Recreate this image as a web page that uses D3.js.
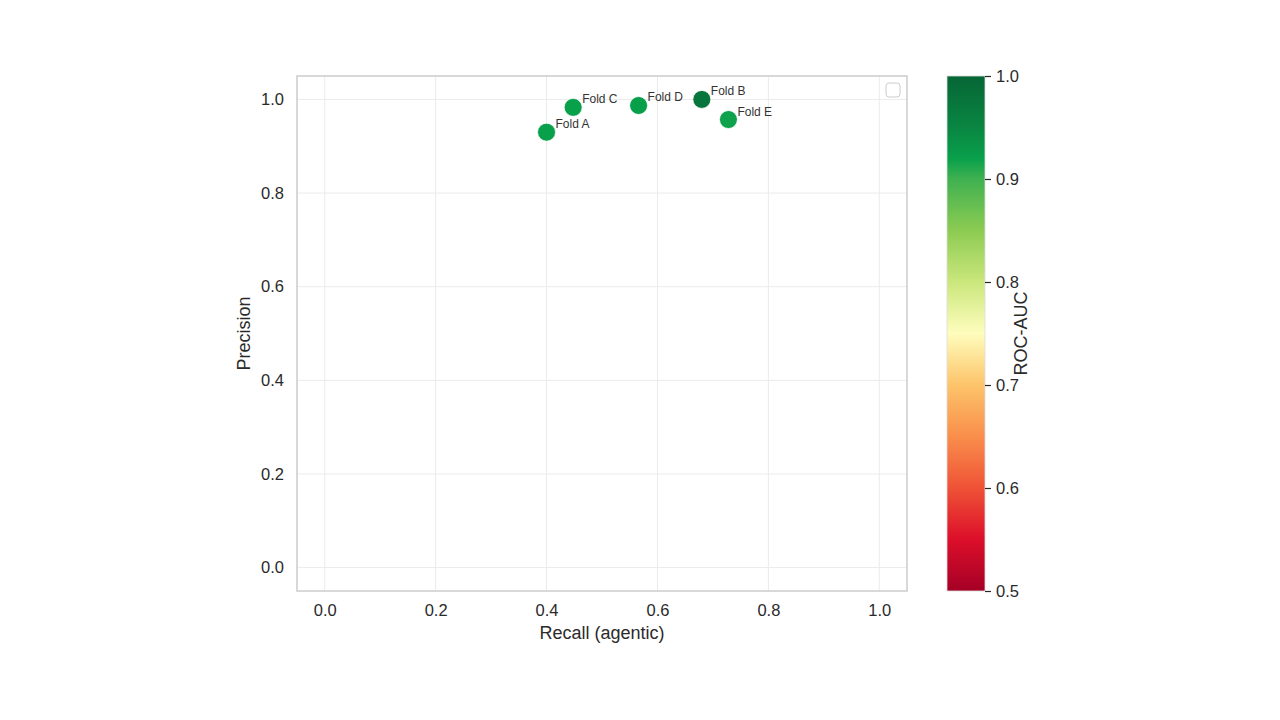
<!DOCTYPE html>
<html>
<head>
<meta charset="utf-8">
<script src="https://cdn.jsdelivr.net/npm/d3@7"></script>
<style>
body { margin: 0; background: #fff; }
text { font-family: "Liberation Sans", Arial, sans-serif; fill: #2a2a2a; }
</style>
</head>
<body>
<div class="content"></div>
<script>
// data
var folds = ["Fold A", "Fold B", "Fold C", "Fold D", "Fold E"];
var recall = [0.400, 0.680, 0.448, 0.566, 0.728];
var precision = [0.930, 1.000, 0.983, 0.987, 0.957];
var rocAuc = [0.920, 0.975, 0.920, 0.921, 0.918];
var axisTicks = [0.0, 0.2, 0.4, 0.6, 0.8, 1.0];
var cbarTicks = [0.5, 0.6, 0.7, 0.8, 0.9, 1.0];

var width = 1280, height = 720;
var svg = d3.select(".content").append("svg").attr("width", width).attr("height", height);

var pL = 297, pR = 907, pT = 76, pB = 591;
var x = d3.scaleLinear().domain([-0.05, 1.05]).range([pL, pR]);
var y = d3.scaleLinear().domain([-0.05, 1.05]).range([pB, pT]);

// colour map like RdYlGn as it looks in the picture
var cmap = d3.scaleLinear()
  .domain([0.5, 0.55, 0.6, 0.65, 0.7, 0.75, 0.8, 0.85, 0.9, 0.92, 0.95, 1.0])
  .range(["#a50026", "#dc0f2a", "#ef5236", "#f98e4b", "#fdc46a", "#fefdbd",
          "#cbe77c", "#8ccb52", "#3fb150", "#08a04b", "#0a8642", "#066636"])
  .clamp(true);

// grid
svg.append("g").selectAll("line").data(axisTicks).enter().append("line")
  .attr("x1", function(d){ return x(d); }).attr("x2", function(d){ return x(d); })
  .attr("y1", pT).attr("y2", pB)
  .attr("stroke", "#ebebeb").attr("stroke-width", 1);
svg.append("g").selectAll("line").data(axisTicks).enter().append("line")
  .attr("y1", function(d){ return y(d); }).attr("y2", function(d){ return y(d); })
  .attr("x1", pL).attr("x2", pR)
  .attr("stroke", "#ebebeb").attr("stroke-width", 1);

// frame
svg.append("rect").attr("x", pL).attr("y", pT)
  .attr("width", pR - pL).attr("height", pB - pT)
  .attr("fill", "none").attr("stroke", "#cccccc").attr("stroke-width", 1.5);

// axes (no tick marks, seaborn whitegrid)
var xa = svg.append("g").attr("transform", "translate(0," + pB + ")")
  .call(d3.axisBottom(x).tickValues(axisTicks).tickFormat(d3.format(".1f")).tickSize(0).tickPadding(13));
var ya = svg.append("g").attr("transform", "translate(" + pL + ",0)")
  .call(d3.axisLeft(y).tickValues(axisTicks).tickFormat(d3.format(".1f")).tickSize(0).tickPadding(13));
[xa, ya].forEach(function(a){
  a.select(".domain").remove();
  a.attr("font-size", 16.5).attr("font-family", "Liberation Sans, Arial, sans-serif");
  a.selectAll("text").attr("fill", "#2a2a2a");
});

svg.append("text").attr("x", (pL + pR) / 2).attr("y", 639)
  .attr("text-anchor", "middle").attr("font-size", 18).text("Recall (agentic)");
svg.append("text").attr("transform", "translate(250," + (pT + pB) / 2 + ") rotate(-90)")
  .attr("text-anchor", "middle").attr("font-size", 18).text("Precision");

// empty legend box
svg.append("rect").attr("x", 886).attr("y", 83).attr("width", 14).attr("height", 14)
  .attr("rx", 3).attr("fill", "#fff").attr("stroke", "#cccccc").attr("stroke-width", 1);

// points
var idx = d3.range(folds.length);
svg.append("g").selectAll("circle").data(idx).enter().append("circle")
  .attr("cx", function(i){ return x(recall[i]); })
  .attr("cy", function(i){ return y(precision[i]); })
  .attr("r", 9)
  .attr("fill", function(i){ return cmap(rocAuc[i]); })
  .attr("stroke", "#fff").attr("stroke-width", 0.8);

svg.append("g").selectAll("text").data(idx).enter().append("text")
  .attr("x", function(i){ return x(recall[i]) + 9; })
  .attr("y", function(i){ return y(precision[i]) - 4; })
  .attr("font-size", 12).style("fill", "#333")
  .text(function(i){ return folds[i]; });

// colorbar
var cbL = 947, cbR = 985;
var cy = d3.scaleLinear().domain([0.5, 1.0]).range([pB, pT]);
var grad = svg.append("defs").append("linearGradient").attr("id", "cbar")
  .attr("x1", 0).attr("y1", 1).attr("x2", 0).attr("y2", 0);
d3.range(0, 51).forEach(function(k){
  var v = 0.5 + k * 0.01;
  grad.append("stop").attr("offset", (k / 50)).attr("stop-color", cmap(v));
});
svg.append("rect").attr("x", cbL).attr("y", pT).attr("width", cbR - cbL).attr("height", pB - pT)
  .attr("fill", "url(#cbar)").attr("stroke", "#dddddd").attr("stroke-width", 0.8);

var ca = svg.append("g").attr("transform", "translate(" + cbR + ",0)")
  .call(d3.axisRight(cy).tickValues(cbarTicks).tickFormat(d3.format(".1f")).tickSize(6).tickPadding(5));
ca.select(".domain").remove();
ca.attr("font-size", 16.5).attr("font-family", "Liberation Sans, Arial, sans-serif");
ca.selectAll("line").attr("stroke", "#262626").attr("stroke-width", 1.2);
ca.selectAll("text").attr("fill", "#2a2a2a");

svg.append("text").attr("transform", "translate(1027," + (pT + pB) / 2 + ") rotate(-90)")
  .attr("text-anchor", "middle").attr("font-size", 18).text("ROC-AUC");
</script>
</body>
</html>
